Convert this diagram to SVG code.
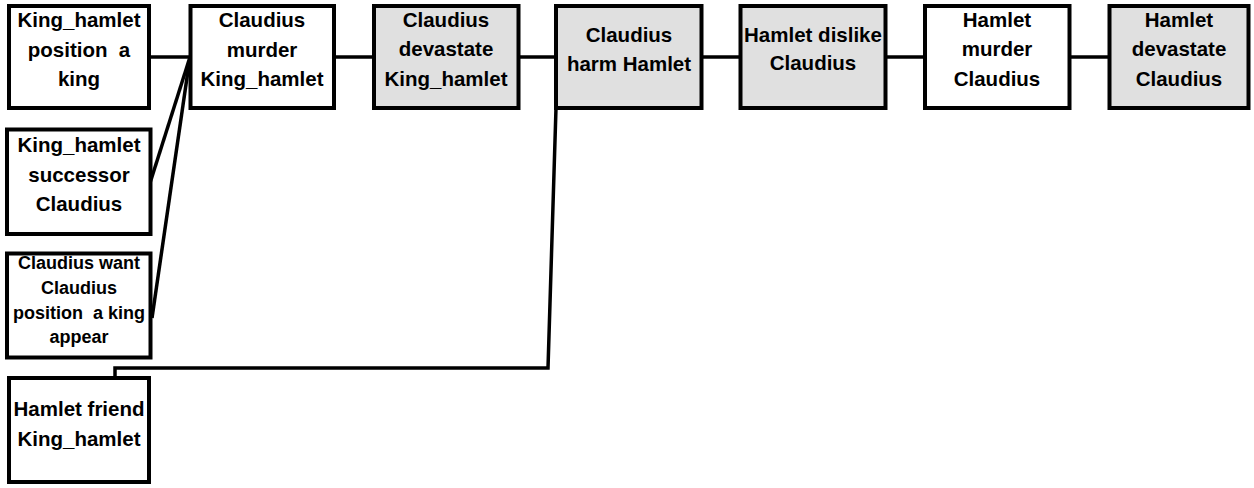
<svg xmlns="http://www.w3.org/2000/svg" width="1254" height="488" viewBox="0 0 1254 488">
<style>
.box{stroke:#000;stroke-width:4;fill:#fff}
.g{fill:#e0e0e0}
text{font-family:"Liberation Sans",Arial,sans-serif;font-weight:bold;font-size:20.5px;fill:#000;text-anchor:middle;white-space:pre}
.s{font-size:18px}
.c{stroke:#000;stroke-width:3.5;fill:none}
</style>
<rect width="1254" height="488" fill="#fff"/>
<g id="connectors">
<line class="c" x1="150" y1="57" x2="190" y2="57"/>
<line class="c" x1="150" y1="183" x2="190" y2="57"/>
<line class="c" x1="152" y1="318" x2="190" y2="57"/>
<line class="c" x1="334" y1="57" x2="374" y2="57"/>
<line class="c" x1="518" y1="57" x2="556" y2="57"/>
<line class="c" x1="701" y1="57" x2="740" y2="57"/>
<line class="c" x1="885" y1="57" x2="925" y2="57"/>
<line class="c" x1="1069" y1="57" x2="1109" y2="57"/>
<polyline class="c" points="115,378 115,368 548,368 556,108"/>
</g>
<g id="n1"><rect class="box" x="9" y="6" width="140" height="102"/>
<text x="79" y="27">King_hamlet</text><text x="79" y="57">position  a</text><text x="79" y="86">king</text></g>
<g id="n2"><rect class="box" x="7" y="129.5" width="143.5" height="104.5"/>
<text x="79" y="152">King_hamlet</text><text x="79" y="182">successor</text><text x="79" y="211">Claudius</text></g>
<g id="n3"><rect class="box" x="7" y="253.5" width="143.5" height="104"/>
<text class="s" x="79" y="269">Claudius want</text><text class="s" x="79" y="294">Claudius</text><text class="s" x="79" y="319">position  a king</text><text class="s" x="79" y="343">appear</text></g>
<g id="n4"><rect class="box" x="9" y="378" width="140" height="104"/>
<text x="79" y="416">Hamlet friend</text><text x="79" y="446">King_hamlet</text></g>
<g id="n5"><rect class="box" x="190.5" y="6" width="143.5" height="102"/>
<text x="262" y="27">Claudius</text><text x="262" y="57">murder</text><text x="262" y="86">King_hamlet</text></g>
<g id="n6"><rect class="box g" x="374" y="6" width="144.5" height="102"/>
<text x="446" y="27">Claudius</text><text x="446" y="56">devastate</text><text x="446" y="86">King_hamlet</text></g>
<g id="n7"><rect class="box g" x="556" y="6" width="145.5" height="102"/>
<text x="629" y="42">Claudius</text><text x="629" y="71">harm Hamlet</text></g>
<g id="n8"><rect class="box g" x="740.5" y="6" width="145" height="102"/>
<text x="813" y="42">Hamlet dislike</text><text x="813" y="70">Claudius</text></g>
<g id="n9"><rect class="box" x="925" y="6" width="144.5" height="102"/>
<text x="997" y="27">Hamlet</text><text x="997" y="56">murder</text><text x="997" y="86">Claudius</text></g>
<g id="n10"><rect class="box g" x="1109.5" y="6" width="139" height="102"/>
<text x="1179" y="27">Hamlet</text><text x="1179" y="56">devastate</text><text x="1179" y="86">Claudius</text></g>
</svg>
